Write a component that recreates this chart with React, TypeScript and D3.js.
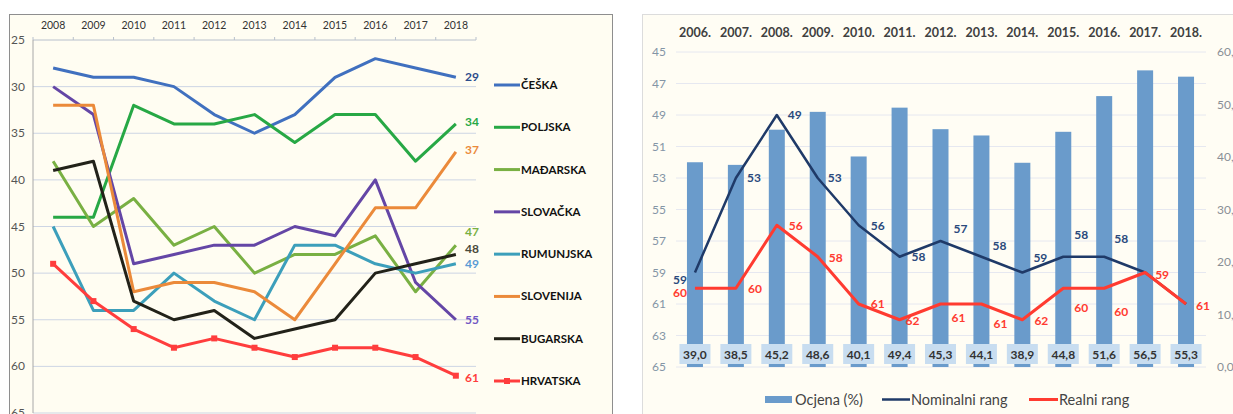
import React from "react";
import * as d3 from "d3";

// left chart: rank of countries 2008-2018
const leftYears = [2008, 2009, 2010, 2011, 2012, 2013, 2014, 2015, 2016, 2017, 2018];
const ceska = [28, 29, 29, 30, 33, 35, 33, 29, 27, 28, 29];
const poljska = [44, 44, 32, 34, 34, 33, 36, 33, 33, 38, 34];
const madarska = [38, 45, 42, 47, 45, 50, 48, 48, 46, 52, 47];
const slovacka = [30, 33, 49, 48, 47, 47, 45, 46, 40, 51, 55];
const rumunjska = [45, 54, 54, 50, 53, 55, 47, 47, 49, 50, 49];
const slovenija = [32, 32, 52, 51, 51, 52, 55, 49, 43, 43, 37];
const bugarska = [39, 38, 53, 55, 54, 57, 56, 55, 50, 49, 48];
const hrvatska = [49, 53, 56, 58, 57, 58, 59, 58, 58, 59, 61];
const leftTicks = [25, 30, 35, 40, 45, 50, 55, 60, 65];

// right chart: Croatia score and rank 2006-2018
const rightYears = [2006, 2007, 2008, 2009, 2010, 2011, 2012, 2013, 2014, 2015, 2016, 2017, 2018];
const ocjena = [39.0, 38.5, 45.2, 48.6, 40.1, 49.4, 45.3, 44.1, 38.9, 44.8, 51.6, 56.5, 55.3];
const nominalniRang = [59, 53, 49, 53, 56, 58, 57, 58, 59, 58, 58, 59, 61];
const realniRang = [60, 60, 56, 58, 61, 62, 61, 61, 62, 60, 60, 59, 61];
const rankTicks = [45, 47, 49, 51, 53, 55, 57, 59, 61, 63, 65];
const scoreTicks = [0, 10, 20, 30, 40, 50, 60];

const series = [
  { name: "ČEŠKA", values: ceska, color: "#4070bf", label: "#2c4c8c", dy: 0 },
  { name: "POLJSKA", values: poljska, color: "#27a845", label: "#27a845", dy: -2 },
  { name: "MAĐARSKA", values: madarska, color: "#79b043", label: "#79b043", dy: -13 },
  { name: "SLOVAČKA", values: slovacka, color: "#6446a6", label: "#7157c4", dy: 0 },
  { name: "RUMUNJSKA", values: rumunjska, color: "#3c9fbb", label: "#5b9bd5", dy: 0 },
  { name: "SLOVENIJA", values: slovenija, color: "#eb8a3a", label: "#eb8a3a", dy: -2 },
  { name: "BUGARSKA", values: bugarska, color: "#222219", label: "#4a4a3a", dy: -5 },
  { name: "HRVATSKA", values: hrvatska, color: "#ff3d3d", label: "#ff3d3d", dy: 2 },
];

// label nudges for the right chart (px)
const nomDx = [-8, 18, 18, 17, 19, 19, 20, 18, 18, 18, 17];
const nomDy = [7, 0, 0, 0, 1, 0, -12, -11, -15, -22, -18];
const realDx = [-8, 19, 19, 18, 19, 13, 18, 19, 19, 18, 17, 17, 17];
const realDy = [5, 1, 1, 1, 0, 1, 14, 20, 1, 20, 24, 2, 2];

const font = "Lato, 'Open Sans', sans-serif";
const comma = d3.formatLocale({ decimal: ",", thousands: ".", grouping: [3], currency: ["", ""] }).format(".1f");

function LeftChart() {
  const x = d3.scaleBand<number>().domain(leftYears).range([33, 476]);
  const y = d3.scaleLinear().domain([25, 65]).range([40, 413]);
  const cx = (yr: number) => (x(yr) || 0) + x.bandwidth() / 2;
  const line = d3
    .line<number>()
    .x((_, i) => cx(leftYears[i]))
    .y((d) => y(d));
  const legendY = d3.scaleLinear().domain([0, 7]).range([85, 381]);
  return (
    <g fontFamily={font}>
      <rect x={9.5} y={14.5} width={603} height={420} fill="#fffdf2" stroke="#8e8e8e" />
      {leftTicks.slice(1).map((t) => (
        <line key={t} x1={33} x2={476} y1={y(t)} y2={y(t)} stroke="#cdd5e4" strokeWidth={1} />
      ))}
      <line x1={33} x2={476} y1={y(25)} y2={y(25)} stroke="#b8c0cc" />
      {leftYears.map((yr) => (
        <line key={yr} x1={x(yr)} x2={x(yr)} y1={y(25) - 3} y2={y(25)} stroke="#b8c0cc" />
      ))}
      <line x1={476} x2={476} y1={y(25) - 3} y2={y(25)} stroke="#b8c0cc" />
      <line x1={33} x2={33} y1={y(25)} y2={y(65)} stroke="#a8a8a8" />
      {leftTicks.map((t) => (
        <text key={t} x={25} y={y(t) + 4} textAnchor="end" fontSize={12} fill="#555">
          {t}
        </text>
      ))}
      {leftYears.map((yr) => (
        <text key={yr} x={cx(yr)} y={29} textAnchor="middle" fontSize={10.5} fill="#333">
          {yr}
        </text>
      ))}
      {series.map((s) => (
        <path
          key={s.name}
          d={line(s.values) || ""}
          fill="none"
          stroke={s.color}
          strokeWidth={3}
          strokeLinejoin="round"
        />
      ))}
      {hrvatska.map((v, i) => (
        <rect key={i} x={cx(leftYears[i]) - 3} y={y(v) - 3} width={6} height={6} fill="#ff3d3d" />
      ))}
      {series.map((s) => (
        <text
          key={s.name}
          x={465}
          y={y(s.values[s.values.length - 1]) + 4 + s.dy}
          fontSize={12}
          fontWeight="bold"
          fill={s.label}
        >
          {s.values[s.values.length - 1]}
        </text>
      ))}
      {series.map((s, i) => (
        <g key={s.name} transform={`translate(0,${legendY(i)})`}>
          <line x1={494} x2={520} y1={0} y2={0} stroke={s.color} strokeWidth={3} />
          {s.name === "HRVATSKA" && <rect x={504} y={-3} width={6} height={6} fill={s.color} />}
          <text x={521} y={4} fontSize={11.5} fontWeight="bold" fill="#111">
            {s.name}
          </text>
        </g>
      ))}
    </g>
  );
}

function RightChart() {
  const xs = d3.scaleBand<number>().domain(rightYears).range([674.5, 1206.5]);
  const cx = (yr: number) => (xs(yr) || 0) + xs.bandwidth() / 2;
  const yRank = d3.scaleLinear().domain([45, 65]).range([52, 367]);
  const yScore = d3.scaleLinear().domain([0, 60]).range([367, 52]);
  const bw = 16;
  const rankLine = d3
    .line<number>()
    .x((_, i) => cx(rightYears[i]))
    .y((d) => yRank(d));
  return (
    <g fontFamily={font}>
      <rect x={642.5} y={14.5} width={620} height={420} fill="#fffdf4" stroke="#dcdcdc" />
      {rankTicks.map((t) => (
        <line key={t} x1={676} x2={1206} y1={yRank(t)} y2={yRank(t)} stroke="#e6e8f0" />
      ))}
      {rankTicks.map((t) => (
        <text key={t} x={666} y={yRank(t) + 4} textAnchor="end" fontSize={12} fill="#8495a6">
          {t}
        </text>
      ))}
      {scoreTicks.map((t) => (
        <text key={t} x={1217} y={yScore(t) + 4} fontSize={12} fill="#8a8f96">
          {comma(t)}
        </text>
      ))}
      {rightYears.map((yr) => (
        <text key={yr} x={cx(yr)} y={37} textAnchor="middle" fontSize={12.5} fontWeight="bold" fill="#404040">
          {`${yr}.`}
        </text>
      ))}
      {ocjena.map((v, i) => (
        <rect
          key={i}
          x={cx(rightYears[i]) - bw / 2}
          y={yScore(v)}
          width={bw}
          height={yScore(0) - yScore(v)}
          fill="#6a9bcb"
        />
      ))}
      <path d={rankLine(nominalniRang) || ""} fill="none" stroke="#1f3a68" strokeWidth={2.5} strokeLinejoin="round" />
      <path d={rankLine(realniRang) || ""} fill="none" stroke="#ff3b30" strokeWidth={3} strokeLinejoin="round" />
      {nomDx.map((dx, i) => (
        <text
          key={i}
          x={cx(rightYears[i]) + dx}
          y={yRank(nominalniRang[i]) + nomDy[i] + 4}
          textAnchor={dx < 0 ? "end" : "middle"}
          fontSize={12}
          fontWeight="bold"
          fill="#2a4a7c"
        >
          {nominalniRang[i]}
        </text>
      ))}
      {realniRang.map((v, i) => (
        <text
          key={i}
          x={cx(rightYears[i]) + realDx[i]}
          y={yRank(v) + realDy[i] + 4}
          textAnchor={realDx[i] < 0 ? "end" : "middle"}
          fontSize={12}
          fontWeight="bold"
          fill="#ff3b30"
        >
          {v}
        </text>
      ))}
      {ocjena.map((v, i) => (
        <g key={i} transform={`translate(${cx(rightYears[i])},354)`}>
          <rect x={-15.5} y={-10} width={31} height={20} fill="#c8ddf0" />
          <text x={0} y={4.5} textAnchor="middle" fontSize={12} fontWeight="bold" fill="#333">
            {comma(v)}
          </text>
        </g>
      ))}
      <rect x={765} y={396} width={27} height={7} fill="#6a9bcb" />
      <text x={795} y={404.5} fontSize={14.5} fill="#444">
        Ocjena (%)
      </text>
      <line x1={882} x2={910} y1={399.5} y2={399.5} stroke="#1f3a68" strokeWidth={2.5} />
      <text x={911} y={404.5} fontSize={14.5} fill="#444">
        Nominalni rang
      </text>
      <line x1={1029} x2={1058} y1={399.5} y2={399.5} stroke="#ff3b30" strokeWidth={3} />
      <text x={1059} y={404.5} fontSize={14.5} fill="#444">
        Realni rang
      </text>
    </g>
  );
}

export default function App() {
  return (
    <svg
      width={1233}
      height={414}
      style={{ position: "fixed", left: 0, top: 0, background: "#fff" }}
    >
      <LeftChart />
      <RightChart />
    </svg>
  );
}
